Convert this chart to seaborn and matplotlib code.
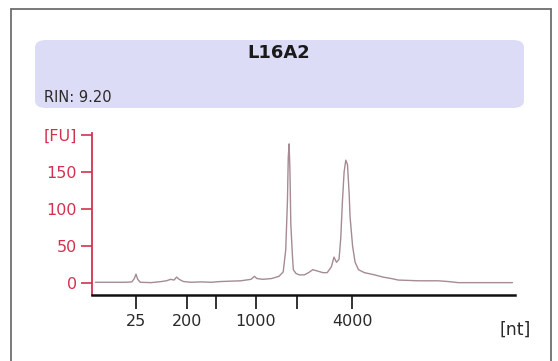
import numpy as np
import pandas as pd
import matplotlib
matplotlib.use("Agg")
import matplotlib.pyplot as plt
from matplotlib.patches import FancyBboxPatch
from matplotlib.lines import Line2D
import seaborn as sns

sns.set_theme(style="white")
plt.rcParams['font.family'] = ['DejaVu Sans']

# ---- data (migration time in s, fluorescence in FU) ----
time_s = [19.4, 21.2, 23.0, 23.7, 24.0, 24.2, 24.4, 24.7, 26.0, 27.2, 27.8, 28.3,
          28.7, 29.0, 29.3, 29.8, 30.7, 31.9, 33.1, 34.2, 35.4, 36.6, 37.8, 38.2,
          38.5, 39.2, 40.2, 41.1, 41.6, 41.9, 42.1, 42.2, 42.3, 42.4, 42.5, 42.7,
          42.8, 43.1, 43.5, 44.1, 44.6, 45.1, 45.7, 46.3, 46.8, 47.3, 47.6, 47.9,
          48.2, 48.4, 48.6, 48.8, 49.0, 49.2, 49.4, 49.5, 49.8, 50.1, 50.5, 51.2,
          52.4, 53.4, 54.4, 55.2, 57.6, 59.9, 61.1, 62.3, 64.7, 68.7]
fu = [1.0, 1.0, 1.0, 1.5, 6.0, 12.0, 5.0, 1.0, 0.5, 2.0, 3.0, 5.0,
      4.0, 8.0, 5.0, 2.0, 1.0, 1.5, 1.0, 2.0, 2.5, 3.0, 5.0, 9.0,
      6.0, 5.0, 6.0, 9.0, 15.0, 45.0, 110.0, 170.0, 188.0, 150.0, 80.0, 35.0,
      18.0, 13.0, 11.0, 11.0, 14.0, 18.0, 16.0, 14.0, 14.0, 22.0, 35.0, 28.0,
      32.0, 60.0, 110.0, 150.0, 166.0, 160.0, 120.0, 90.0, 50.0, 28.0, 18.0, 14.0,
      11.0, 8.0, 6.0, 4.0, 3.0, 3.0, 2.0, 0.5, 0.5, 0.5]

x_tick_pos = [24.17, 30.2, 33.66, 38.34, 43.23, 49.77]
x_tick_labels = ["25", "200", "", "1000", "", "4000"]
y_ticks = [0, 50, 100, 150, 200]
y_tick_labels = ["0", "50", "100", "150", "[FU]"]

sample_name = "L16A2"
rin_text = "RIN: 9.20"

df = pd.DataFrame({"time": time_s, "fu": fu})

W, H = 558, 361
fig = plt.figure(figsize=(W / 100, H / 100), dpi=100)
fig.patch.set_facecolor("white")

# outer frame
frame_col = "#6e6e6e"
fx0, fx1, fy0 = 10.5, 550.5, 8.5
fig.add_artist(Line2D([fx0 / W, fx0 / W], [0, 1 - fy0 / H], transform=fig.transFigure, color=frame_col, lw=1.3))
fig.add_artist(Line2D([fx0 / W, fx1 / W], [1 - fy0 / H, 1 - fy0 / H], transform=fig.transFigure, color=frame_col, lw=1.3))
fig.add_artist(Line2D([fx1 / W, fx1 / W], [0, 1 - fy0 / H], transform=fig.transFigure, color=frame_col, lw=1.3))

# title box
bx0, bx1, by0, by1 = 35, 524, 40, 108
box = FancyBboxPatch((bx0 / W, 1 - by1 / H), (bx1 - bx0) / W, (by1 - by0) / H,
                     boxstyle="round,pad=0,rounding_size=0.02", transform=fig.transFigure,
                     facecolor="#dddcf7", edgecolor="none")
fig.add_artist(box)
fig.text(279 / W, 1 - 53 / H, sample_name, ha="center", va="center", fontsize=13,
         fontweight="bold", color="#1a1a1a")
fig.text(44 / W, 1 - 97 / H, rin_text, ha="left", va="center", fontsize=10.5, color="#2a2a2a")

red = "#d3324f"
ax = fig.add_axes([92 / W, 1 - 295 / H, (515 - 92) / W, (295 - 133) / H])
ax.set_facecolor("none")
sns.lineplot(data=df, x="time", y="fu", ax=ax, color="#a58b93", lw=1.0)

ax.set_xlim(19, 69)
ax.set_ylim(-16.2, 202.7)
for s in ["top", "right"]:
    ax.spines[s].set_visible(False)
ax.spines["left"].set_color(red)
ax.spines["left"].set_linewidth(1.3)
ax.spines["bottom"].set_color("#111111")
ax.spines["bottom"].set_linewidth(1.8)

ax.set_xticks(x_tick_pos)
ax.set_xticklabels(x_tick_labels)
ax.set_yticks(y_ticks)
ax.set_yticklabels(y_tick_labels)
ax.tick_params(axis="x", direction="out", length=10, width=1.2, color="#111111",
               labelsize=11.5, labelcolor="#2a2a2a", pad=4, bottom=True)
ax.tick_params(axis="y", direction="out", length=8, width=1.2, color=red,
               labelsize=11.5, labelcolor=red, pad=3, left=True)
ax.set_xlabel("")
ax.set_ylabel("")
ax.grid(False)

fig.text(515 / W, 1 - 330 / H, "[nt]", ha="center", va="center", fontsize=12.5, color="#2a2a2a")

fig.savefig("out.png", dpi=100, facecolor="white")
